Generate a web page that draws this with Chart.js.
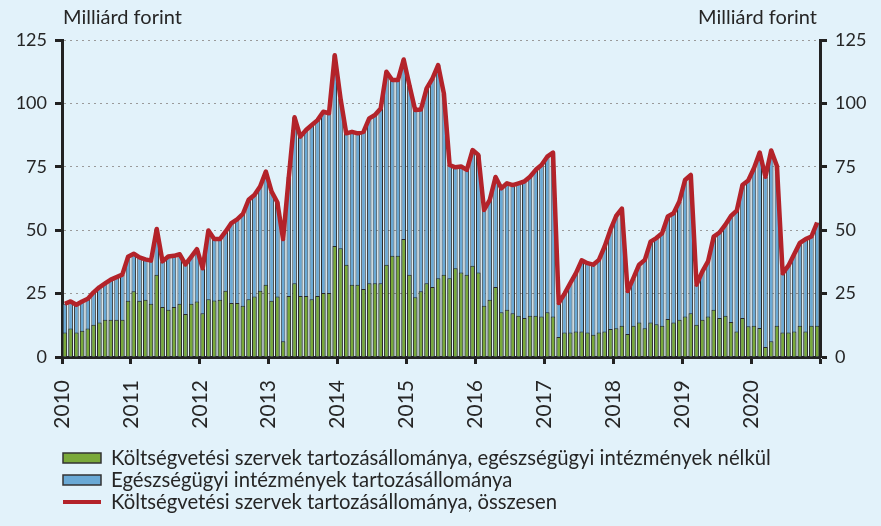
<!DOCTYPE html>
<html>
<head>
<meta charset="utf-8">
<script src="https://cdn.jsdelivr.net/npm/chart.js@4.4.1/dist/chart.umd.min.js"></script>
<style>
  html, body { margin: 0; padding: 0; background: #e2f2fa; }
  canvas { display: block; }
</style>
</head>
<body>
<canvas id="debtChart" width="881" height="526"></canvas>
<script>
  // Years on the axis, one bar per month
  const years = ['2010', '2011', '2012', '2013', '2014', '2015', '2016', '2017', '2018', '2019', '2020'];
  const months = years.flatMap(y => ['01', '02', '03', '04', '05', '06', '07', '08', '09', '10', '11', '12'].map(m => y + '-' + m));

  // Költségvetési szervek tartozásállománya, egészségügyi intézmények nélkül (Mrd Ft)
  const nonHealthDebt = [
    9.7, 11.2, 9.7, 10.4, 11.2, 12.7, 13.6, 14.7, 14.7, 14.7, 14.7, 22.2,
    25.9, 22.2, 22.6, 21, 32.4, 19.7, 18.6, 19.7, 21, 17, 21, 21.9,
    17.3, 22.8, 22.3, 22.6, 26.1, 21.3, 21.3, 20.2, 22.8, 23.9, 26.1, 28.5,
    22.2, 23.9, 6.2, 24.1, 29.1, 24.1, 24.1, 22.8, 24.1, 25.2, 25.2, 43.8,
    42.9, 36.4, 28.5, 28.5, 26.8, 29.1, 29.1, 29.1, 36.4, 39.9, 39.9, 46.5,
    32.4, 23.6, 25.9, 29.1, 27.6, 31.1, 32.4, 31.1, 35, 33.3, 32.4, 36,
    33.3, 20.2, 22.6, 27.6, 17.6, 18.6, 17.3, 16.3, 15.4, 16.3, 16.3, 16,
    17.6, 16, 7.9, 9.7, 9.7, 10.1, 10.1, 9.7, 8.8, 9.7, 10.1, 11,
    11.3, 12.3, 9.1, 12.3, 13.6, 11.3, 13.6, 12.9, 12.3, 15, 13.6, 14.7,
    16, 17.3, 12.7, 14.7, 16, 18.6, 15.4, 16.3, 13.8, 10.1, 15.4, 12.1,
    12.3, 11.4, 3.9, 6.2, 12.3, 9.7, 9.7, 10.1, 12.3, 10.1, 12.3, 12.3
  ];

  // Költségvetési szervek tartozásállománya, összesen (top of the blue bars)
  const totalDebt = [
    21, 21.9, 20.6, 21.9, 23, 25.5, 27.5, 29, 30.5, 31.5, 32.5, 39.5,
    40.7, 39.3, 38.5, 38, 50.5, 37.7, 39.6, 39.9, 40.5, 36.5, 39.5, 42.5,
    35, 49.9, 46.5, 46.5, 49.5, 52.8, 54.3, 56.4, 62, 63.9, 67.2, 73.1,
    65.2, 61, 46.5, 71.1, 94.5, 86.9, 89.5, 91.5, 93.4, 96.7, 96.1, 119,
    102, 88.2, 88.8, 88.2, 88.8, 94.1, 95.4, 98, 112.5, 109.2, 109.2, 117.3,
    107.2, 97.4, 97.6, 105.9, 109.8, 115.1, 103.9, 75.7, 74.8, 75.1, 73.8, 81.6,
    79.7, 58, 62, 71, 66.5, 68.5, 67.8, 68.5, 69.2, 71.1, 73.8, 75.7,
    79, 80.6, 21.3, 24.9, 29.1, 33.1, 38.1, 37, 36.4, 38.3, 43.6, 50.1,
    55.6, 58.5, 26, 31.1, 36.4, 38.3, 45.5, 46.9, 48.8, 55.4, 56.7, 61.3,
    69.8, 71.8, 28.5, 33.7, 37.7, 47.5, 49.1, 52.1, 55.6, 57.7, 67.8, 69.6,
    74.4, 80.6, 71.1, 81.4, 75.3, 33, 36, 40.5, 45, 46.5, 47.5, 53
  ];

  // year boundaries on the month scale (0 = Jan 2010, 132 = end of 2020)
  const yearTicks = years.map((_, i) => i * 12).concat([years.length * 12]);
  const yTicks = [0, 25, 50, 75, 100, 125];

  const BG = '#e2f2fa';
  const AXIS = '#222222';
  const TEXT = '#262626';
  const FONT = 'Lato, "Open Sans", sans-serif';
  const GREEN = '#7aa93a';
  const BLUE = '#6aa9d5';
  const RED = '#b3232a';

  const bgPlugin = {
    id: 'bg',
    beforeDraw(chart) {
      const c = chart.ctx;
      c.save();
      c.fillStyle = BG;
      c.fillRect(0, 0, chart.width, chart.height);
      c.restore();
    }
  };

  // unit labels above both axes + legend in a column at the bottom
  const textPlugin = {
    id: 'texts',
    afterDraw(chart) {
      const c = chart.ctx;
      const area = chart.chartArea;
      c.save();
      c.fillStyle = TEXT;
      c.font = '20px ' + FONT;
      c.textBaseline = 'middle';
      c.textAlign = 'left';
      c.fillText('Milliárd forint', area.left + 1, 18);
      c.textAlign = 'right';
      c.fillText('Milliárd forint', area.right - 3, 18);

      const ds = chart.data.datasets;
      const items = [ds[1], ds[2], ds[0]];
      c.textAlign = 'left';
      c.font = '20.3px ' + FONT;
      items.forEach((d, k) => {
        const y = 458 + k * 22;
        if (d.type === 'line') {
          c.strokeStyle = d.borderColor;
          c.lineWidth = 4;
          c.beginPath();
          c.moveTo(63, y);
          c.lineTo(101, y);
          c.stroke();
        } else {
          c.fillStyle = d.backgroundColor;
          c.fillRect(63, y - 5, 38, 10);
          c.strokeStyle = '#333333';
          c.lineWidth = 1.5;
          c.strokeRect(63, y - 5, 38, 10);
        }
        c.fillStyle = TEXT;
        c.fillText(d.label, 111, y);
      });
      c.restore();
    }
  };

  const ctx = document.getElementById('debtChart').getContext('2d');
  const debtChart = new Chart(ctx, {
    data: {
      labels: months,
      datasets: [
        {
          label: 'Költségvetési szervek tartozásállománya, összesen',
          type: 'line',
          data: totalDebt,
          borderColor: RED,
          backgroundColor: RED,
          borderWidth: 4.5,
          borderJoinStyle: 'round',
          pointRadius: 0,
          tension: 0,
          order: 0
        },
        {
          label: 'Költségvetési szervek tartozásállománya, egészségügyi intézmények nélkül',
          type: 'bar',
          data: nonHealthDebt,
          backgroundColor: GREEN,
          borderColor: '#2b2b2b',
          borderWidth: 1,
          grouped: false,
          barPercentage: 0.8,
          categoryPercentage: 1,
          order: 1
        },
        {
          label: 'Egészségügyi intézmények tartozásállománya',
          type: 'bar',
          data: totalDebt,
          backgroundColor: BLUE,
          borderColor: '#2b2b2b',
          borderWidth: 1,
          grouped: false,
          barPercentage: 0.8,
          categoryPercentage: 1,
          order: 2
        }
      ]
    },
    options: {
      responsive: false,
      devicePixelRatio: 1,
      animation: false,
      layout: { padding: { top: 40, left: 0, right: 0, bottom: 0 } },
      plugins: {
        legend: { display: false },
        tooltip: { enabled: false }
      },
      scales: {
        x: {
          type: 'category',
          display: false,
          offset: true
        },
        years: {
          type: 'linear',
          position: 'bottom',
          min: 0,
          max: years.length * 12,
          afterBuildTicks: s => { s.ticks = yearTicks.map(v => ({ value: v })); },
          ticks: {
            autoSkip: false,
            minRotation: 90,
            maxRotation: 90,
            padding: 16,
            color: TEXT,
            font: { family: FONT, size: 21 },
            callback: (v, i) => years[i] || ''
          },
          grid: { drawOnChartArea: false, tickLength: 7, tickWidth: 3, tickColor: AXIS },
          border: { display: true, color: AXIS, width: 3 },
          afterFit: s => { s.height = 169; }
        },
        y: {
          position: 'left',
          min: 0,
          max: 125,
          afterBuildTicks: s => { s.ticks = yTicks.map(v => ({ value: v })); },
          ticks: { padding: 8, color: TEXT, font: { family: FONT, size: 18 } },
          grid: {
            color: c => (c.tick && c.tick.value === 0) ? 'rgba(0,0,0,0)' : '#9a9a9a',
            lineWidth: 1,
            tickLength: 7,
            tickWidth: 3,
            tickColor: AXIS
          },
          border: { display: true, color: AXIS, width: 3, dash: [2, 4] },
          afterFit: s => { s.width = 62; }
        },
        y2: {
          position: 'right',
          min: 0,
          max: 125,
          afterBuildTicks: s => { s.ticks = yTicks.map(v => ({ value: v })); },
          ticks: { padding: 8, color: TEXT, font: { family: FONT, size: 18 } },
          grid: { drawOnChartArea: false, tickLength: 7, tickWidth: 3, tickColor: AXIS },
          border: { display: true, color: AXIS, width: 3 },
          afterFit: s => { s.width = 61; }
        }
      }
    },
    plugins: [bgPlugin, textPlugin]
  });
</script>
</body>
</html>
